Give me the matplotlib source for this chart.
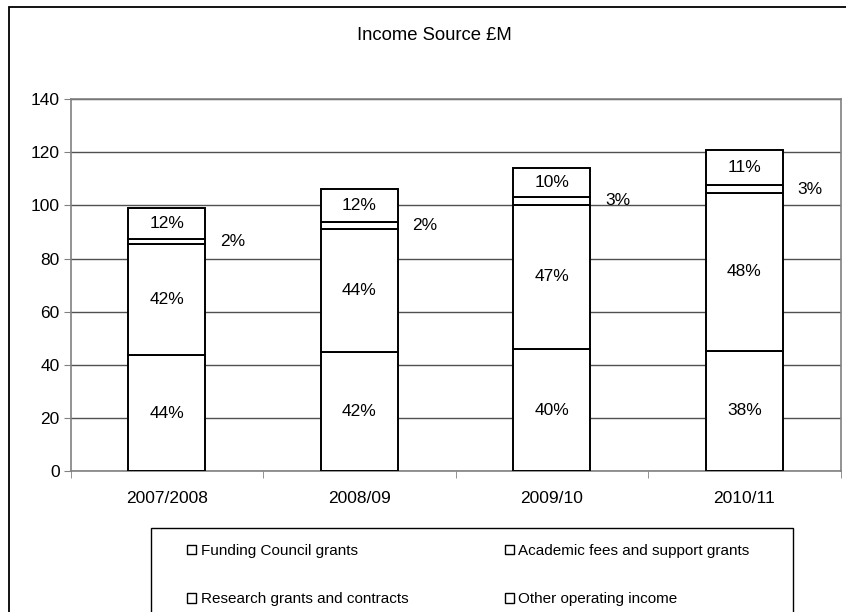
import matplotlib
matplotlib.use("Agg")
import matplotlib.pyplot as plt
from matplotlib.patches import Patch, Rectangle
import numpy as np

plt.rcParams['font.family'] = ['Liberation Sans', 'DejaVu Sans']

years = ["2007/2008", "2008/09", "2009/10", "2010/11"]
series = ["Funding Council grants", "Academic fees and support grants",
          "Research grants and contracts", "Other operating income"]
funding = [43.6, 44.8, 46.0, 45.4]
academic = [41.7, 46.4, 54.2, 59.1]
research = [2.0, 2.4, 2.9, 3.2]
other = [11.6, 12.6, 11.1, 13.2]

funding_lbl = ["44%", "42%", "40%", "38%"]
academic_lbl = ["42%", "44%", "47%", "48%"]
research_lbl = ["2%", "2%", "3%", "3%"]
other_lbl = ["12%", "12%", "10%", "11%"]

W, H = 846, 612
fig = plt.figure(figsize=(W / 100, H / 100), dpi=100)
ax = fig.add_axes([70.7 / W, 1 - 471.3 / H, (840.7 - 70.7) / W, (471.3 - 99) / H])

x = np.arange(len(years))
bw = 0.4
data = [funding, academic, research, other]
bottom = np.zeros(len(years))
for vals in data:
    ax.bar(x, vals, bw, bottom=bottom, color='white', edgecolor='black',
           linewidth=1.4, zorder=3)
    bottom = bottom + np.array(vals)

fs_lbl = 12.5
for i in range(len(years)):
    f, a, r, o = funding[i], academic[i], research[i], other[i]
    ax.text(x[i], f / 2, funding_lbl[i], ha='center', va='center', fontsize=fs_lbl, zorder=5)
    ax.text(x[i], f + a / 2, academic_lbl[i], ha='center', va='center', fontsize=fs_lbl, zorder=5)
    ax.text(x[i] + bw / 2 + 0.075, f + a + r / 2, research_lbl[i], ha='left', va='center',
            fontsize=fs_lbl, zorder=5)
    ax.text(x[i], f + a + r + o / 2, other_lbl[i], ha='center', va='center', fontsize=fs_lbl, zorder=5)

ax.set_xlim(-0.5, len(years) - 0.5)
ax.set_ylim(0, 140)
ax.set_yticks(np.arange(0, 141, 20))
ax.set_xticks(x)
ax.set_xticklabels(years)
ax.set_xticks(np.arange(-0.5, len(years), 1.0), minor=True)
ax.tick_params(axis='x', which='major', length=0, pad=14, labelsize=12.5)
ax.tick_params(axis='x', which='minor', length=5, direction='out', color='#808080')
ax.tick_params(axis='y', length=5, direction='out', labelsize=12.5, pad=3, color='#808080')
ax.yaxis.grid(True, color='#505050', linewidth=1.0, zorder=0)
ax.set_axisbelow(True)
for s in ax.spines.values():
    s.set_color('#808080')
    s.set_linewidth(1.2)

fig.text(434 / W, 1 - 35 / H, "Income Source £M", ha='center', va='center', fontsize=13.3)

# outer chart frame
fig.patches.append(Rectangle((8.7 / W, -0.05), 1.2, 1 - 7.3 / H + 0.05, transform=fig.transFigure,
                             fill=False, edgecolor='black', linewidth=1.3))
# legend frame
fig.patches.append(Rectangle((150.7 / W, -0.05), (792.7 - 150.7) / W, 1 - 528.3 / H + 0.05,
                             transform=fig.transFigure, fill=False, edgecolor='black', linewidth=1.0))

handles = [Patch(facecolor='white', edgecolor='black', linewidth=1.0) for _ in series]
order = [0, 2, 1, 3]
leg = fig.legend([handles[k] for k in order], [series[k] for k in order], ncol=2,
                 loc='upper left', bbox_to_anchor=(187 / W, 1 - 544 / H), frameon=False,
                 fontsize=11, handlelength=0.6, handleheight=0.6, handletextpad=0.3,
                 labelspacing=2.25, columnspacing=6.3, borderpad=0, borderaxespad=0)

fig.savefig("out.png", dpi=100)
